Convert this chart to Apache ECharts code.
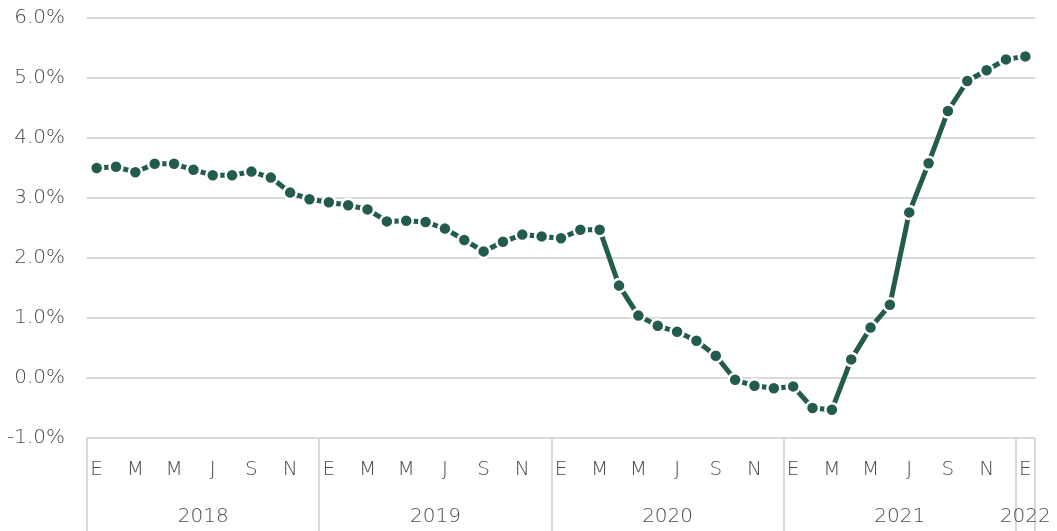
<!DOCTYPE html>
<html>
<head>
<meta charset="utf-8">
<script src="https://cdn.jsdelivr.net/npm/echarts@6/dist/echarts.min.js"></script>
<style>
  html, body { margin: 0; padding: 0; background: #fff; }
  #main { width: 1057px; height: 531px; }
</style>
</head>
<body>
<div id="main"></div>
<script>
// month initials (Spanish) and years
var monthLetters = ['E', 'F', 'M', 'A', 'M', 'J', 'J', 'A', 'S', 'O', 'N', 'D'];
var years = ['2018', '2019', '2020', '2021', '2022'];

// monthly values, Jan 2018 .. Jan 2022 (%)
var values2018 = [3.50, 3.52, 3.43, 3.57, 3.57, 3.47, 3.38, 3.38, 3.44, 3.34, 3.09, 2.98];
var values2019 = [2.93, 2.88, 2.81, 2.61, 2.62, 2.60, 2.49, 2.30, 2.11, 2.27, 2.39, 2.36];
var values2020 = [2.33, 2.47, 2.47, 1.54, 1.04, 0.87, 0.77, 0.62, 0.37, -0.03, -0.13, -0.17];
var values2021 = [-0.14, -0.50, -0.53, 0.31, 0.84, 1.22, 2.76, 3.58, 4.45, 4.95, 5.13, 5.31];
var values2022 = [5.36];

var yTicks = [-1, 0, 1, 2, 3, 4, 5, 6];

var series = [values2018, values2019, values2020, values2021, values2022];
var categories = [];
var values = [];
series.forEach(function (arr, y) {
    arr.forEach(function (v, m) {
        categories.push(monthLetters[m] + ' ' + years[y]);
        values.push(v);
    });
});

var myChart = echarts.init(document.getElementById('main'));
var txt = '#4a4a4a';
var grey = '#d9d9d9';
var font = 'DejaVu Sans';
var lastIdx = categories.length - 1;

var option = {
    animation: false,
    grid: { left: 87, right: 22, top: 18, bottom: 93 },
    xAxis: [{
        type: 'category',
        data: categories,
        boundaryGap: true,
        position: 'bottom',
        axisLine: { lineStyle: { color: grey, width: 2 } },
        axisTick: { show: false },
        axisLabel: {
            interval: function (i) { return i % 2 === 0; },
            formatter: function (v) { return v.split(' ')[0]; },
            color: txt, fontSize: 20, fontWeight: 200, fontFamily: font, margin: 22
        }
    }, {
        type: 'category',
        data: categories,
        boundaryGap: true,
        position: 'bottom',
        axisLine: { show: false },
        axisTick: {
            show: true,
            interval: function (i) { return i % 12 === 0; },
            length: 93,
            lineStyle: { color: grey, width: 2 }
        },
        axisLabel: {
            interval: function (i) { return i % 12 === 6 || i === lastIdx; },
            formatter: function (v, i) {
                return (i === lastIdx ? '{z|' : '{y|') + v.split(' ')[1] + '}';
            },
            rich: {
                y: { padding: [0, 19, 0, 0], color: txt, fontSize: 20, fontWeight: 200, fontFamily: font },
                z: { color: txt, fontSize: 20, fontWeight: 200, fontFamily: font }
            },
            margin: 69
        }
    }],
    yAxis: {
        type: 'value',
        min: yTicks[0],
        max: yTicks[yTicks.length - 1],
        interval: 1,
        axisLine: { show: false },
        axisTick: { show: false },
        splitLine: { lineStyle: { color: grey, width: 2 } },
        axisLabel: {
            formatter: function (v) { return v.toFixed(1) + '%'; },
            color: txt, fontSize: 20, fontWeight: 200, fontFamily: font, margin: 22
        }
    },
    series: [{
        type: 'line',
        data: values,
        xAxisIndex: 0,
        symbol: 'circle',
        symbolSize: 13,
        showAllSymbol: true,
        lineStyle: { color: '#235c4e', width: 5 },
        itemStyle: { color: '#235c4e', borderColor: '#fff', borderWidth: 2.5 }
    }]
};

myChart.setOption(option);
window.onresize = function () {
    myChart.resize();
};
</script>
</body>
</html>
